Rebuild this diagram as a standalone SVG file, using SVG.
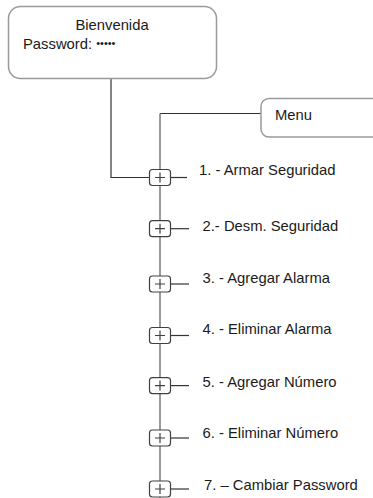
<svg xmlns="http://www.w3.org/2000/svg" width="373" height="498" viewBox="0 0 373 498">
<style>
text{font-family:"Liberation Sans",Arial,sans-serif;font-size:14.8px;fill:#1a1a1a}
.box{fill:#fff;stroke:#9a9a9a;stroke-width:1.5}
.plus{fill:#fff;stroke:#404040;stroke-width:1.2}
.pl{stroke:#404040;stroke-width:1.2;fill:none}
.ln{stroke:#333;stroke-width:1.2;fill:none}
.trunk{stroke:#7a7a7a;stroke-width:1.5;fill:none}
</style>
<defs>
<g id="pb">
<rect class="plus" x="-10.5" y="-8" width="21" height="16" rx="3"/>
<path class="pl" d="M-5,0H5M0,-5V5"/>
</g>
</defs>
<g id="connectors">
<path class="ln" d="M111,78V177.5H150"/>
<path class="ln" d="M261,113.5H160"/>
<path class="trunk" d="M160,113.5V498"/>
<path class="ln" d="M171,177.5H187"/>
<path class="ln" d="M171,228.7H189"/>
<path class="ln" d="M171,284H189"/>
<path class="ln" d="M171,335.5H189"/>
<path class="ln" d="M171,385.6H189"/>
<path class="ln" d="M171,438H189"/>
<path class="ln" d="M171,489H189"/>
</g>
<g id="bienvenida">
<rect class="box" x="8.5" y="6.5" width="208" height="72" rx="12"/>
<text x="112" y="30" text-anchor="middle">Bienvenida</text>
<text x="23" y="49">Password: <tspan font-size="11" dy="-2">•••••</tspan></text>
</g>
<g id="menu">
<rect class="box" x="261" y="98.5" width="130" height="38.5" rx="8"/>
<text x="275" y="120">Menu</text>
</g>
<g id="item1"><use href="#pb" x="160" y="177.5"/><text x="199" y="175">1. - Armar Seguridad</text></g>
<g id="item2"><use href="#pb" x="160" y="228.7"/><text x="202.5" y="230.5">2.- Desm. Seguridad</text></g>
<g id="item3"><use href="#pb" x="160" y="284"/><text x="202.5" y="282.5">3. - Agregar Alarma</text></g>
<g id="item4"><use href="#pb" x="160" y="335.5"/><text x="202.5" y="333.5">4. - Eliminar Alarma</text></g>
<g id="item5"><use href="#pb" x="160" y="385.6"/><text x="202.5" y="386.5">5. - Agregar Número</text></g>
<g id="item6"><use href="#pb" x="160" y="438"/><text x="202.5" y="437.5">6. - Eliminar Número</text></g>
<g id="item7"><use href="#pb" x="160" y="489"/><text x="204" y="490">7. – Cambiar Password</text></g>
</svg>
